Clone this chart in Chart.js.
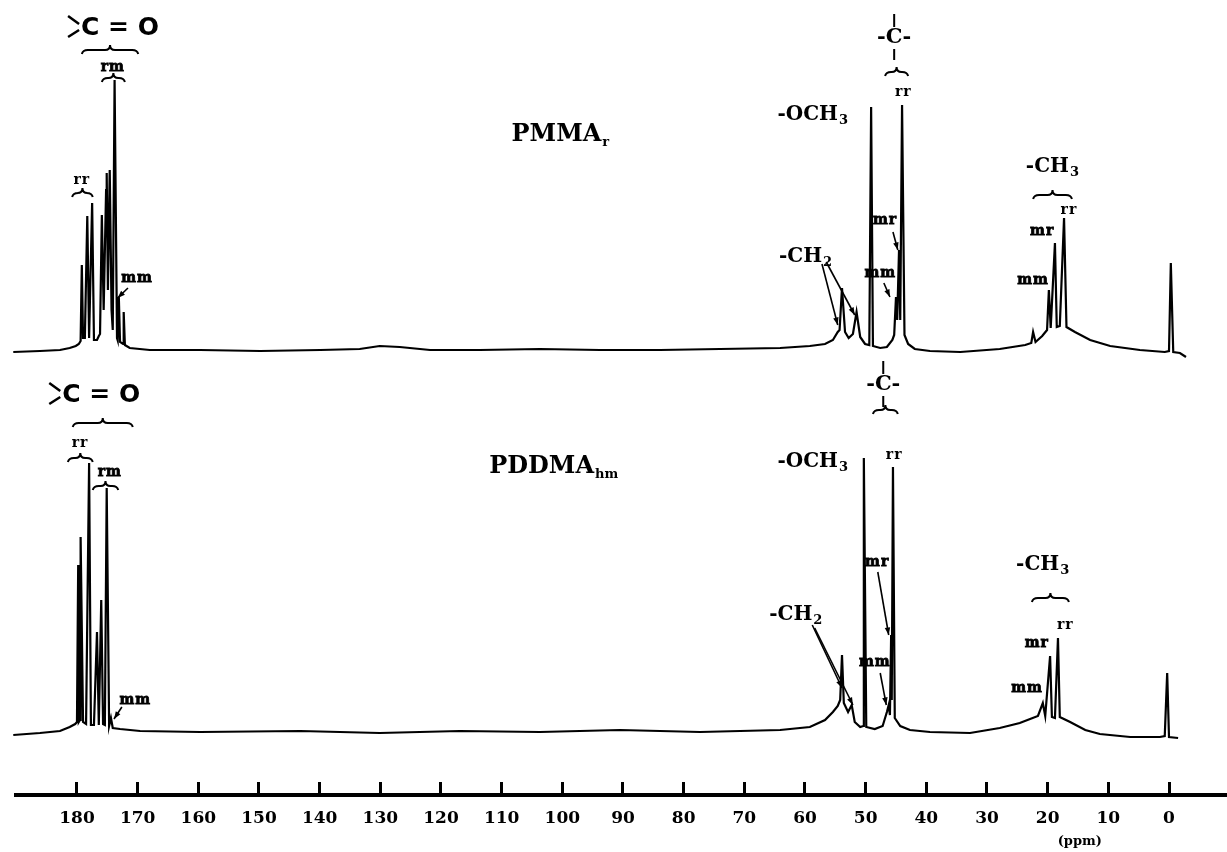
<!DOCTYPE html>
<html>
<head>
<meta charset="utf-8">
<script src="https://cdn.jsdelivr.net/npm/chart.js@4.4.1/dist/chart.umd.min.js"></script>
<style>
  html, body { margin: 0; padding: 0; background: #fff; }
  #wrap { width: 1227px; height: 852px; position: relative; }
</style>
</head>
<body>
<div id="wrap"><canvas id="nmr"></canvas></div>
<script>
// 13C NMR, PMMA_r (top trace) and PDDMA_hm (bottom trace)
// shift in ppm, intensity = height above that trace's baseline (arbitrary units)
const topPpm = [190.5, 186.1, 182.8, 181.2, 180.2, 179.7, 179.4, 179.2, 179.0, 178.7, 178.3, 178.0, 177.9, 177.5, 177.2,
  176.7, 176.4, 176.2, 175.9, 175.6, 175.2, 175.1, 174.9, 174.6, 174.3, 174.1, 173.8, 173.4, 173.3, 173.1, 172.9,
  172.4, 172.3, 172.1, 171.3, 168.0, 159.7, 149.8, 139.9, 133.4, 130.1, 126.8, 121.8, 113.6, 103.7, 93.8, 83.9,
  74.0, 64.1, 59.2, 56.7, 55.4, 54.6, 54.3, 53.9, 53.4, 52.8, 52.1, 51.5, 50.9, 50.1, 49.4, 49.1, 48.8, 47.6,
  46.5, 45.6, 45.3, 45.0, 44.8, 44.5, 44.3, 44.0, 43.6, 43.0, 41.9, 39.4, 34.4, 27.9, 23.7, 22.7, 22.4, 22.0,
  20.9, 20.1, 19.8, 19.5, 18.8, 18.5, 18.0, 17.3, 16.9, 15.5, 13.0, 9.7, 4.8, 0.7, 0.0, -0.3, -0.7, -1.8, -2.8];
const topInt = [0, 1, 2, 4, 6, 8, 11, 87, 14, 14, 136, 14, 14, 149, 12,
  12, 16, 18, 137, 42, 162, 179, 62, 182, 42, 22, 272, 14, 12, 55, 10,
  8, 40, 7, 4, 2, 2, 1, 2, 3, 6, 5, 2, 2, 3, 2, 2,
  3, 4, 6, 8, 12, 20, 22, 64, 20, 14, 18, 40, 15, 8, 7, 245, 6, 4,
  5, 12, 17, 55, 32, 102, 32, 247, 17, 8, 3, 1, 0, 3, 7, 9, 20, 10,
  16, 22, 62, 24, 109, 25, 26, 134, 25, 20, 12, 6, 2, 0, 1, 89, 0, -1, -5];

const botPpm = [190.5, 186.1, 182.8, 181.2, 180.3, 180.0, 179.8, 179.7, 179.5, 179.4, 179.0, 178.5, 178.0, 177.7,
  177.2, 176.7, 176.4, 176.0, 175.7, 175.4, 175.1, 174.7, 174.4, 174.1, 172.9, 169.6, 159.7, 143.2, 130.1, 116.9,
  103.7, 90.5, 77.3, 64.1, 59.2, 56.7, 55.4, 54.6, 54.2, 53.9, 53.6, 52.9, 52.3, 51.8, 50.9, 50.4, 50.3, 49.9,
  48.5, 47.2, 46.5, 46.2, 46.0, 45.8, 45.7, 45.5, 45.2, 44.3, 42.7, 39.4, 32.8, 27.9, 24.6, 22.9, 21.6, 20.8,
  20.4, 19.6, 19.3, 18.8, 18.3, 18.0, 16.3, 13.8, 11.4, 6.4, 1.5, 0.7, 0.3, 0.0, -1.5];
const botInt = [-2, 0, 2, 6, 9, 11, 168, 11, 13, 196, 11, 9, 270, 8,
  8, 101, 8, 133, 9, 8, 245, 7, 15, 5, 4, 2, 1, 2, 0, 2,
  1, 3, 1, 3, 6, 13, 21, 27, 33, 78, 30, 21, 28, 11, 6, 7, 275, 6,
  4, 7, 21, 28, 18, 98, 33, 266, 15, 7, 3, 1, 0, 5, 10, 14, 17, 30,
  17, 77, 16, 15, 95, 16, 11, 3, -1, -4, -4, -3, 60, -4, -5];

const tickValues = [180, 170, 160, 150, 140, 130, 120, 110, 100, 90, 80, 70, 60, 50, 40, 30, 20, 10, 0];

// assignment labels: [text, ppm, intensity]
const topTacticity = [["rr", 179.2, 172], ["rm", 174.1, 285], ["mm", 170.1, 74], ["rr", 43.8, 260],
  ["mr", 46.8, 132], ["mm", 47.6, 79], ["rr", 16.5, 142], ["mr", 20.9, 121], ["mm", 22.4, 72]];
const botTacticity = [["rr", 179.5, 290], ["rm", 174.6, 261], ["mm", 170.4, 33], ["rr", 45.3, 278],
  ["mr", 48.1, 171], ["mm", 48.5, 71], ["rr", 17.1, 108], ["mr", 21.8, 90], ["mm", 23.4, 45]];
// groups: [name, subscript, ppm, intensity]
const topGroups = [["-OCH", "3", 58.8, 237], ["-CH", "2", 60.0, 95], ["-CH", "3", 19.3, 185]];
const botGroups = [["-OCH", "3", 58.8, 271], ["-CH", "2", 61.6, 118], ["-CH", "3", 20.9, 168]];
// braces: [ppm from, ppm to, intensity]
const topBraces = [[180.8, 177.4, 159], [175.9, 172.1, 274], [179.2, 169.9, 302], [46.8, 43.0, 280], [22.4, 16.0, 157]];
const botBraces = [[181.5, 177.4, 275], [177.4, 173.2, 247], [180.7, 170.8, 310], [48.8, 44.7, 323], [22.6, 16.5, 135]];
// arrows: [ppm, intensity] tail -> [ppm, intensity] head
const topArrows = [[171.6, 64, 173.3, 54], [57.2, 88, 54.6, 27], [56.5, 90, 51.8, 37], [45.5, 120, 44.7, 102], [47.0, 69, 46.0, 55]];
const botArrows = [[172.6, 26, 173.9, 14], [58.8, 108, 53.9, 45], [58.4, 105, 52.1, 28], [48.0, 161, 46.2, 98], [47.6, 60, 46.6, 28]];
const topCarbonyl = [172.9, 324];
const botCarbonyl = [176.0, 338];
const topQuat = [45.3, 314];
const botQuat = [47.1, 348];
const topTitle = ["PMMA", "r", 100.4, 217];
const botTitle = ["PDDMA", "hm", 101.5, 266];
const unitLabel = ["(ppm)", 14.7];

const SERIF = '"DejaVu Serif", "Liberation Serif", serif';

function subText(ctx, base, sub, cx, cy, size, subSize, subDrop) {
  ctx.font = `bold ${size}px ${SERIF}`;
  const w1 = ctx.measureText(base).width;
  ctx.font = `bold ${subSize}px ${SERIF}`;
  const w2 = ctx.measureText(sub).width;
  const left = cx - (w1 + w2) / 2;
  ctx.textAlign = "left";
  ctx.textBaseline = "middle";
  ctx.font = `bold ${size}px ${SERIF}`;
  ctx.fillText(base, left, cy);
  ctx.font = `bold ${subSize}px ${SERIF}`;
  ctx.fillText(sub, left + w1 + 1, cy + subDrop);
}

function brace(ctx, x1, x2, y) {
  const a = Math.min(x1, x2), b = Math.max(x1, x2), m = (a + b) / 2;
  ctx.beginPath();
  ctx.moveTo(a, y + 4);
  ctx.quadraticCurveTo(a + 1, y, a + 6, y);
  ctx.lineTo(m - 5, y);
  ctx.quadraticCurveTo(m, y, m, y - 5);
  ctx.quadraticCurveTo(m, y, m + 5, y);
  ctx.lineTo(b - 6, y);
  ctx.quadraticCurveTo(b - 1, y, b, y + 4);
  ctx.stroke();
}

function arrow(ctx, x1, y1, x2, y2) {
  ctx.beginPath();
  ctx.moveTo(x1, y1);
  ctx.lineTo(x2, y2);
  ctx.stroke();
  const ang = Math.atan2(y2 - y1, x2 - x1);
  ctx.beginPath();
  ctx.moveTo(x2, y2);
  ctx.lineTo(x2 - 8 * Math.cos(ang - 0.35), y2 - 8 * Math.sin(ang - 0.35));
  ctx.lineTo(x2 - 8 * Math.cos(ang + 0.35), y2 - 8 * Math.sin(ang + 0.35));
  ctx.closePath();
  ctx.fill();
}

function drawSet(ctx, xs, ys, set) {
  const px = (p) => xs.getPixelForValue(p);
  const py = (v) => ys.getPixelForValue(v);
  ctx.save();
  ctx.fillStyle = "#000";
  ctx.strokeStyle = "#000";

  ctx.font = `bold 14px ${SERIF}`;
  ctx.textAlign = "center";
  ctx.textBaseline = "middle";
  if ("letterSpacing" in ctx) ctx.letterSpacing = "1px";
  ctx.lineWidth = 0.8;
  set.tact.forEach(([t, p, v]) => {
    ctx.fillText(t, px(p), py(v));
    if (t.includes("m")) ctx.strokeText(t, px(p), py(v)); // m-labels print heavier
  });
  if ("letterSpacing" in ctx) ctx.letterSpacing = "0px";

  set.groups.forEach(([b, s, p, v]) => subText(ctx, b, s, px(p), py(v), 20, 13, 6));
  subText(ctx, set.title[0], set.title[1], px(set.title[2]), py(set.title[3]), 24, 13, 8);

  ctx.lineWidth = 2;
  set.braces.forEach(([a, b, v]) => brace(ctx, px(a), px(b), py(v)));
  ctx.lineWidth = 1.6;
  set.arrows.forEach(([p1, v1, p2, v2]) => arrow(ctx, px(p1), py(v1), px(p2), py(v2)));

  // >C=O
  const cx = px(set.carbonyl[0]), cy = py(set.carbonyl[1]);
  ctx.font = `bold 25px "DejaVu Sans", sans-serif`;
  ctx.textAlign = "center";
  ctx.textBaseline = "middle";
  ctx.fillText("C = O", cx, cy);
  const cl = cx - ctx.measureText("C = O").width / 2;
  ctx.lineWidth = 2.5;
  ctx.beginPath();
  ctx.moveTo(cl - 13, cy - 12);
  ctx.lineTo(cl - 2, cy - 4);
  ctx.moveTo(cl - 13, cy + 9);
  ctx.lineTo(cl - 2, cy + 2);
  ctx.stroke();

  // quaternary carbon  -C-
  const qx = px(set.quat[0]), qy = py(set.quat[1]);
  ctx.font = `bold 21px ${SERIF}`;
  ctx.fillText("-C-", qx, qy);
  ctx.lineWidth = 2;
  ctx.beginPath();
  ctx.moveTo(qx, qy - 24);
  ctx.lineTo(qx, qy - 11);
  ctx.moveTo(qx, qy + 11);
  ctx.lineTo(qx, qy + 22);
  ctx.stroke();
  ctx.restore();
}

const assignments = {
  id: "assignments",
  afterDatasetsDraw(chart) {
    const { ctx, scales } = chart;
    drawSet(ctx, scales.x, scales.yTop, {
      tact: topTacticity, groups: topGroups, braces: topBraces, arrows: topArrows,
      carbonyl: topCarbonyl, quat: topQuat, title: topTitle,
    });
    drawSet(ctx, scales.x, scales.yBot, {
      tact: botTacticity, groups: botGroups, braces: botBraces, arrows: botArrows,
      carbonyl: botCarbonyl, quat: botQuat, title: botTitle,
    });
    ctx.save();
    ctx.font = `bold 13px ${SERIF}`;
    ctx.textAlign = "center";
    ctx.textBaseline = "middle";
    ctx.fillStyle = "#000";
    ctx.fillText(unitLabel[0], scales.x.getPixelForValue(unitLabel[1]), scales.x.bottom - 10);
    ctx.restore();
  },
};

function trace(ppm, vals, axis) {
  return {
    data: ppm.map((p, i) => ({ x: p, y: vals[i] })),
    yAxisID: axis,
    borderColor: "#000",
    borderWidth: 2.2,
    pointRadius: 0,
    tension: 0,
    fill: false,
    clip: false,
  };
}

new Chart(document.getElementById("nmr"), {
  type: "line",
  data: { datasets: [trace(topPpm, topInt, "yTop"), trace(botPpm, botInt, "yBot")] },
  options: {
    responsive: true,
    maintainAspectRatio: false,
    animation: false,
    layout: { padding: { left: 16, right: 0, top: 0, bottom: 0 } },
    plugins: { legend: { display: false }, tooltip: { enabled: false } },
    scales: {
      x: {
        type: "linear",
        reverse: true,
        min: -9.56,
        max: 190.05,
        afterBuildTicks: (axis) => { axis.ticks = tickValues.map((v) => ({ value: v })); },
        afterFit: (axis) => { axis.height = 57; },
        grid: { drawOnChartArea: false, drawTicks: true, tickLength: -13, tickWidth: 3, tickColor: "#000" },
        border: { display: true, color: "#000", width: 4 },
        ticks: {
          color: "#000",
          padding: 26,
          maxRotation: 0,
          autoSkip: false,
          font: { family: SERIF, weight: "bold", size: 17 },
        },
      },
      yTop: { display: false, min: -443, max: 352 },
      yBot: { display: false, min: -62, max: 733 },
    },
  },
  plugins: [assignments],
});
</script>
</body>
</html>
